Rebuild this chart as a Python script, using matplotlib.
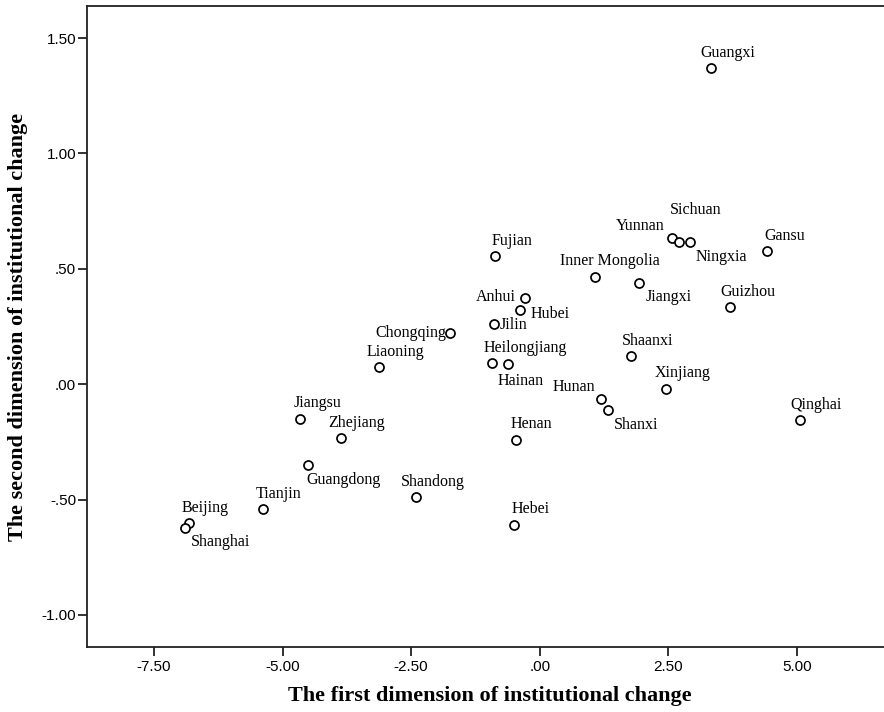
import matplotlib
matplotlib.use("Agg")
import matplotlib.pyplot as plt
from matplotlib.ticker import FixedLocator, FuncFormatter

# Province scores on the two dimensions of institutional change
provinces = [
    "Guangxi", "Fujian", "Inner Mongolia", "Jiangxi", "Anhui", "Hubei", "Jilin",
    "Chongqing", "Liaoning", "Heilongjiang", "Hainan", "Shaanxi", "Hunan", "Shanxi",
    "Xinjiang", "Henan", "Yunnan", "Sichuan", "Ningxia", "Gansu", "Guizhou",
    "Qinghai", "Jiangsu", "Zhejiang", "Guangdong", "Shandong", "Tianjin",
    "Beijing", "Shanghai", "Hebei",
]
dim1 = [
    3.32, -0.87, 1.08, 1.93, -0.29, -0.38, -0.89,
    -1.74, -3.13, -0.92, -0.62, 1.77, 1.19, 1.33,
    2.45, -0.47, 2.56, 2.70, 2.91, 4.42, 3.70,
    5.05, -4.67, -3.87, -4.51, -2.41, -5.38,
    -6.82, -6.90, -0.51,
]
dim2 = [
    1.371, 0.555, 0.463, 0.440, 0.372, 0.323, 0.260,
    0.223, 0.075, 0.092, 0.089, 0.124, -0.066, -0.111,
    -0.022, -0.242, 0.632, 0.615, 0.615, 0.577, 0.333,
    -0.154, -0.151, -0.233, -0.349, -0.489, -0.542,
    -0.600, -0.624, -0.609,
]

x_ticks = [-7.5, -5.0, -2.5, 0.0, 2.5, 5.0]
y_ticks = [-1.0, -0.5, 0.0, 0.5, 1.0, 1.5]

# Label placement: (dx, dy) in pixels from the marker, alignment of the text
label_place = {
    "Guangxi": (-10, -11, "left"), "Fujian": (-3, -11, "left"),
    "Inner Mongolia": (-35, -12, "left"), "Jiangxi": (6, 18, "left"),
    "Anhui": (-9, 3, "right"), "Hubei": (10, 8, "left"),
    "Jilin": (6, 5, "left"), "Chongqing": (-4, 4, "right"),
    "Liaoning": (-12, -11, "left"), "Heilongjiang": (-9, -11, "left"),
    "Hainan": (-10, 21, "left"), "Shaanxi": (-9, -11, "left"),
    "Hunan": (-6, -8, "right"), "Shanxi": (6, 19, "left"),
    "Xinjiang": (-11, -12, "left"), "Henan": (-5, -12, "left"),
    "Yunnan": (-7, -8, "right"), "Sichuan": (-9, -28, "left"),
    "Ningxia": (6, 19, "left"), "Gansu": (-3, -11, "left"),
    "Guizhou": (-10, -11, "left"), "Qinghai": (-9, -11, "left"),
    "Jiangsu": (-6, -12, "left"), "Zhejiang": (-12, -11, "left"),
    "Guangdong": (-1, 19, "left"), "Shandong": (-15, -11, "left"),
    "Tianjin": (-7, -11, "left"), "Beijing": (-7, -11, "left"),
    "Shanghai": (6, 18, "left"), "Hebei": (-2, -12, "left"),
}

DPI = 100
fig = plt.figure(figsize=(8.84, 7.12), dpi=DPI)
ax = fig.add_axes([0.098, 0.0913, 0.912, 0.9003])

ax.plot(dim1, dim2, linestyle="none", marker="o", markersize=6.5,
        markerfacecolor="white", markeredgecolor="black", markeredgewidth=1.25,
        zorder=3)

px2pt = 72.0 / DPI
for name, x, y in zip(provinces, dim1, dim2):
    dx, dy, ha = label_place[name]
    ax.annotate(name, (x, y), xytext=(dx * px2pt, -dy * px2pt),
                textcoords="offset points", ha=ha, va="baseline",
                fontsize=11.5, family="Liberation Serif", color="black")

ax.set_xlim(-8.807, 6.86)
ax.set_ylim(-1.139, 1.639)

ax.xaxis.set_major_locator(FixedLocator(x_ticks))
ax.yaxis.set_major_locator(FixedLocator(y_ticks))


def spss_fmt(v, pos):
    s = f"{v:.2f}"
    if s.startswith("0."):
        s = s[1:]
    elif s.startswith("-0."):
        s = "-" + s[2:]
    return s


ax.xaxis.set_major_formatter(FuncFormatter(spss_fmt))
ax.yaxis.set_major_formatter(FuncFormatter(spss_fmt))

for lab in ax.get_xticklabels() + ax.get_yticklabels():
    lab.set_family("Liberation Sans")
    lab.set_fontsize(11)
ax.tick_params(axis="both", direction="out", length=6.5, width=1.3, color="#222222")
ax.tick_params(axis="x", pad=3.2)
ax.tick_params(axis="y", pad=1.0)

for side in ("left", "bottom", "top"):
    ax.spines[side].set_linewidth(1.3)
    ax.spines[side].set_color("#222222")
ax.spines["right"].set_visible(False)

ax.set_xlabel("The first dimension of institutional change",
              family="Liberation Serif", fontweight="bold", fontsize=16,
              labelpad=8)
ax.set_ylabel("The second dimension of institutional change",
              family="Liberation Serif", fontweight="bold", fontsize=16,
              labelpad=10)

fig.savefig("out.png", dpi=DPI)
